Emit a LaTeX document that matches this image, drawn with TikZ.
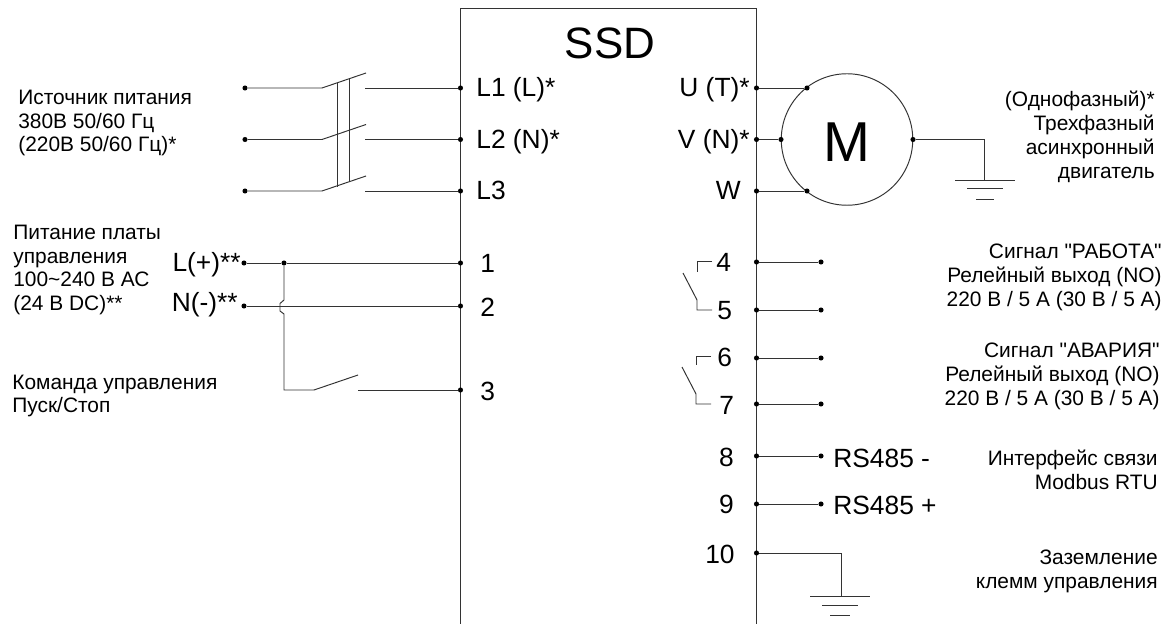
\documentclass[tikz,border=0pt]{standalone}
\usepackage{fontspec}
\setmainfont{Liberation Sans}
\newfontfamily\quotefont{Liberation Sans}
\tikzset{
  dot/.style={circle,fill=black,inner sep=0pt,minimum size=2.9pt},
  wire/.style={line width=0.55pt,black!80},
  txt/.style={inner sep=0pt,font=\fontsize{11.9}{13.6}\selectfont},
  pin/.style={inner sep=0pt,font=\fontsize{15}{18}\selectfont},
}
\begin{document}
\begin{tikzpicture}[x=0.02cm,y=-0.02cm]
\useasboundingbox (0,0) rectangle (1172,624);
\fill[white] (0,0) rectangle (1172,624);

% Drive box
\coordinate (boxtl) at (460.5,8);
\coordinate (boxtr) at (756.5,8);
\coordinate (boxbl) at (460.5,624);
\coordinate (boxbr) at (756.5,624);
\draw[wire] (boxbl) -- (boxtl) -- (boxtr) -- (boxbr);
\node[inner sep=0pt,anchor=base,font=\fontsize{25}{30}\selectfont] (ssd) at (610,59) {SSD};

% Power input
\node[dot] (srcA) at (245,88) {};
\node[dot] (srcB) at (245,139.5) {};
\node[dot] (srcC) at (245,191) {};
\node[dot] (pinLa) at (460.5,88) {};
\node[dot] (pinLb) at (460.5,139.5) {};
\node[dot] (pinLc) at (460.5,191) {};
\foreach \n/\y/\p in {A/88/a,B/139.5/b,C/191/c}{
  \coordinate (swl\n) at (322,\y);
  \coordinate (swr\n) at (366,\y-15);
  \coordinate (swo\n) at (365,\y);
  \draw[wire] (src\n) -- (swl\n) -- (swr\n);
  \draw[wire] (swo\n) -- (pinL\p);
}
\coordinate (linkat) at (337,83);
\coordinate (linkab) at (337,187);
\coordinate (linkbt) at (349,79);
\coordinate (linkbb) at (349,182);
\draw[wire] (linkat) -- (linkab);
\draw[wire] (linkbt) -- (linkbb);
\node[pin,anchor=base west] (lblLa) at (476,97) {L1 (L)*};
\node[pin,anchor=base west] (lblLb) at (476,149) {L2 (N)*};
\node[pin,anchor=base west] (lblLc) at (476,200) {L3};
\node[txt,anchor=west,align=left] (lblsrc) at (18,123) {Источник питания\\380В 50/60 Гц\\(220В 50/60 Гц)*};

% Control board supply and start command
\node[dot] (supL) at (244,263) {};
\node[dot] (supN) at (244,306) {};
\node[dot] (junc) at (284,263) {};
\node[dot] (pinA) at (460.5,263) {};
\node[dot] (pinB) at (460.5,306) {};
\node[dot] (pinC) at (460.5,390) {};
\draw[wire] (supL) -- (junc) -- (pinA);
\draw[wire] (supN) -- (pinB);
\coordinate (bumpa) at (284,300);
\coordinate (bumpb) at (280,303.5);
\coordinate (bumpc) at (280,311);
\coordinate (bumpd) at (284,314);
\coordinate (corner) at (284,390);
\coordinate (cmdl) at (314,390);
\coordinate (cmdr) at (358,375);
\coordinate (cmdo) at (358,390);
\draw[wire] (junc) -- (bumpa) -- (bumpb) -- (bumpc) -- (bumpd) -- (corner) -- (cmdl) -- (cmdr);
\draw[wire] (cmdo) -- (pinC);
\node[pin,anchor=base west] (lblA) at (480,272.5) {1};
\node[pin,anchor=base west] (lblB) at (480,316.5) {2};
\node[pin,anchor=base west] (lblC) at (480,400.5) {3};
\node[pin,anchor=base east] (lblsupL) at (241,272) {L(+)**};
\node[pin,anchor=base east] (lblsupN) at (238,312) {N(-)**};
\node[txt,anchor=west,align=left] (lblsup) at (13,270) {Питание платы\\управления\\100\textasciitilde240 В АС\\(24 В DC)**};
\node[txt,anchor=west,align=left] (lblcmd) at (12,396) {Команда управления\\Пуск/Стоп};

% Motor
\node[circle,draw=black!80,line width=0.55pt,inner sep=0pt,minimum size=132*0.567pt] (motor) at (847,139.5) {};
\node[inner sep=0pt,anchor=base,font=\fontsize{32}{38}\selectfont] (lblM) at (847,162) {M};
\node[dot] (pinU) at (756.5,88) {};
\node[dot] (pinV) at (756.5,139.5) {};
\node[dot] (pinW) at (756.5,191) {};
\node[dot] (motU) at (807,88) {};
\node[dot] (motV) at (781,139.5) {};
\node[dot] (motW) at (807,191) {};
\node[dot] (motE) at (913,139.5) {};
\draw[wire] (pinU) -- (motU);
\draw[wire] (pinV) -- (motV);
\draw[wire] (pinW) -- (motW);
\coordinate (gndaT) at (984,139.5);
\coordinate (gndaB) at (984,180);
\draw[wire] (motE) -- (gndaT) -- (gndaB);
\coordinate (gaal) at (955,180); \coordinate (gaar) at (1015,180);
\coordinate (gabl) at (967,188); \coordinate (gabr) at (1003,188);
\coordinate (gacl) at (976,199); \coordinate (gacr) at (994,199);
\draw[wire] (gaal) -- (gaar);
\draw[wire] (gabl) -- (gabr);
\draw[wire] (gacl) -- (gacr);
\node[pin,anchor=base east] (lblU) at (750,97) {U (T)*};
\node[pin,anchor=base east] (lblV) at (750,149) {V (N)*};
\node[pin,anchor=base east] (lblW) at (741,200) {W};
\node[txt,anchor=east,align=right] (lblmot) at (1155,136.5) {(Однофазный)*\\Трехфазный\\асинхронный\\двигатель};

% Relay outputs
\foreach \n/\y in {d/262,e/310,f/358,g/404}{
  \node[dot] (pin\n) at (756.5,\y) {};
  \node[dot] (out\n) at (821,\y) {};
  \draw[wire] (pin\n) -- (out\n);
}
\foreach \n/\t/\x/\y in {d/4/716/272,e/5/717/320,f/6/717/367,g/7/719/415}{
  \node[pin,anchor=base west] (lbl\n) at (\x,\y) {\t};
}
\coordinate (rua) at (712,261); \coordinate (rub) at (697,261); \coordinate (ruc) at (697,272);
\coordinate (rud) at (683,273); \coordinate (rue) at (697,300); \coordinate (ruf) at (697,310); \coordinate (rug) at (712,310);
\draw[wire] (rua) -- (rub) -- (ruc);
\draw[wire] (rud) -- (rue) -- (ruf) -- (rug);
\coordinate (rva) at (711,356); \coordinate (rvb) at (696,356); \coordinate (rvc) at (696,365);
\coordinate (rvd) at (682,367); \coordinate (rve) at (696,394); \coordinate (rvf) at (696,404); \coordinate (rvg) at (711,404);
\draw[wire] (rva) -- (rvb) -- (rvc);
\draw[wire] (rvd) -- (rve) -- (rvf) -- (rvg);
\node[txt,anchor=east,align=right] (lblrun) at (1162,277) {{\quotefont Сигнал "РАБОТА"}\\Релейный выход (NO)\\220 В / 5 А (30 В / 5 А)};
\node[txt,anchor=east,align=right] (lblfail) at (1160,376) {{\quotefont Сигнал "АВАРИЯ"}\\Релейный выход (NO)\\220 В / 5 А (30 В / 5 А)};

% Modbus
\node[dot] (pinh) at (756.5,456) {};
\node[dot] (pini) at (756.5,504) {};
\node[dot] (outh) at (821,456) {};
\node[dot] (outi) at (821,504) {};
\draw[wire] (pinh) -- (outh);
\draw[wire] (pini) -- (outi);
\node[pin,anchor=base east] (lblh) at (734,466) {8};
\node[pin,anchor=base east] (lbli) at (734,513) {9};
\node[pin,anchor=base west] (lblrsa) at (833,467) {RS485 -};
\node[pin,anchor=base west] (lblrsb) at (833,514) {RS485 +};
\node[txt,anchor=east,align=right] (lblbus) at (1158,470) {Интерфейс связи\\Modbus RTU};

% Control ground
\node[dot] (pinj) at (756.5,553) {};
\coordinate (gndbT) at (841,553);
\coordinate (gndbB) at (841,596);
\draw[wire] (pinj) -- (gndbT) -- (gndbB);
\coordinate (gbal) at (810,596); \coordinate (gbar) at (870,596);
\coordinate (gbbl) at (822,605); \coordinate (gbbr) at (858,605);
\coordinate (gbcl) at (830,615); \coordinate (gbcr) at (850,615);
\draw[wire] (gbal) -- (gbar);
\draw[wire] (gbbl) -- (gbbr);
\draw[wire] (gbcl) -- (gbcr);
\node[pin,anchor=base east] (lblj) at (735,563) {10};
\node[txt,anchor=east,align=right] (lblgnd) at (1158,571) {Заземление\\клемм управления};
\end{tikzpicture}
\end{document}
